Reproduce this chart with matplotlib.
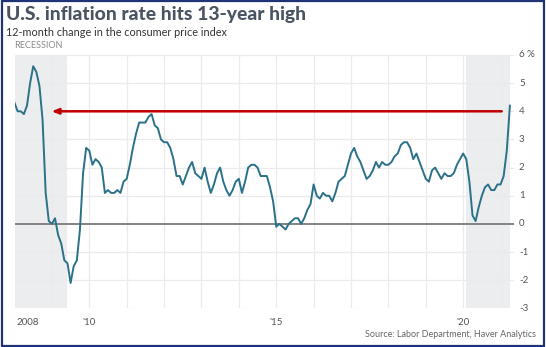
import matplotlib
matplotlib.use("Agg")
import matplotlib.pyplot as plt
import matplotlib.patches as patches
import numpy as np

plt.rcParams['font.family'] = ['Lato', 'DejaVu Sans']

# 12-month CPI change, monthly, Jan 2008 - Apr 2021
cpi_2008 = [4.3, 4.0, 4.0, 3.9, 4.2, 5.0, 5.6, 5.4, 4.9, 3.7, 1.1, 0.1]
cpi_2009 = [0.0, 0.2, -0.4, -0.7, -1.3, -1.4, -2.1, -1.5, -1.3, -0.2, 1.8, 2.7]
cpi_2010 = [2.6, 2.1, 2.3, 2.2, 2.0, 1.1, 1.2, 1.1, 1.1, 1.2, 1.1, 1.5]
cpi_2011 = [1.6, 2.1, 2.7, 3.2, 3.6, 3.6, 3.6, 3.8, 3.9, 3.5, 3.4, 3.0]
cpi_2012 = [2.9, 2.9, 2.7, 2.3, 1.7, 1.7, 1.4, 1.7, 2.0, 2.2, 1.8, 1.7]
cpi_2013 = [1.6, 2.0, 1.5, 1.1, 1.4, 1.8, 2.0, 1.5, 1.2, 1.0, 1.2, 1.5]
cpi_2014 = [1.6, 1.1, 1.5, 2.0, 2.1, 2.1, 2.0, 1.7, 1.7, 1.7, 1.3, 0.8]
cpi_2015 = [-0.1, 0.0, -0.1, -0.2, 0.0, 0.1, 0.2, 0.2, 0.0, 0.2, 0.5, 0.7]
cpi_2016 = [1.4, 1.0, 0.9, 1.1, 1.0, 1.0, 0.8, 1.1, 1.5, 1.6, 1.7, 2.1]
cpi_2017 = [2.5, 2.7, 2.4, 2.2, 1.9, 1.6, 1.7, 1.9, 2.2, 2.0, 2.2, 2.1]
cpi_2018 = [2.1, 2.2, 2.4, 2.5, 2.8, 2.9, 2.9, 2.7, 2.3, 2.5, 2.2, 1.9]
cpi_2019 = [1.6, 1.5, 1.9, 2.0, 1.8, 1.6, 1.8, 1.7, 1.7, 1.8, 2.1, 2.3]
cpi_2020 = [2.5, 2.3, 1.5, 0.3, 0.1, 0.6, 1.0, 1.3, 1.4, 1.2, 1.2, 1.4]
cpi_2021 = [1.4, 1.7, 2.6, 4.2]

recessions = [(2007.917, 2009.417), (2020.083, 2021.25)]
highlight_level = 4.0
highlight_span = (2021.03, 2008.99)

y_ticks = [-3, -2, -1, 0, 1, 2, 3, 4, 5, 6]
y_labels = ['-3', '-2', '-1', '0', '1', '2', '3', '4', '5', '6 %']
x_label_years = [2010, 2015, 2020]
x_labels = ["'10", "'15", "'20"]

values = (cpi_2008 + cpi_2009 + cpi_2010 + cpi_2011 + cpi_2012 + cpi_2013 +
          cpi_2014 + cpi_2015 + cpi_2016 + cpi_2017 + cpi_2018 + cpi_2019 +
          cpi_2020 + cpi_2021)
dates = 2008 + np.arange(len(values)) / 12.0

fig = plt.figure(figsize=(5.46, 3.47), dpi=100)
ax = fig.add_axes([0.0266, 0.1115, 0.9148, 0.730])

ax.set_xlim(2008.0, 2021.36)
ax.set_ylim(-3, 6)

# recession bands
for start, end in recessions:
    ax.axvspan(max(start, 2008.0), end, color='#ecedef', zorder=0, lw=0)

# grid
for yr in range(2009, 2022):
    ax.axvline(yr, color='#ebebeb', lw=0.9, zorder=1)
for y in y_ticks:
    if y != 0:
        ax.axhline(y, color='#ebebeb', lw=0.9, zorder=1)
ax.axhline(0, color='#7a7a7a', lw=1.3, zorder=2)

ax.plot(dates, values, color='#2a7189', lw=1.4, zorder=4, solid_joinstyle='round')

# 13-year-high marker
ax.annotate('', xy=(highlight_span[1], highlight_level),
            xytext=(highlight_span[0], highlight_level),
            arrowprops=dict(arrowstyle='-|>,head_length=0.4,head_width=0.16',
                            color='#c00000', lw=1.8, shrinkA=0, shrinkB=0),
            zorder=3)

for s in ax.spines.values():
    s.set_visible(False)
ax.set_xticks([])
ax.set_yticks([])

# y tick labels on the right
for y, lab in zip(y_ticks, y_labels):
    ax.text(1.01, y, lab, transform=ax.get_yaxis_transform(), ha='left',
            va='center', fontsize=7, color='#555555')

# x tick labels
ax.text(2008.05, -3.5, '2008', ha='left', va='center', fontsize=7, color='#555555')
for yr, lab in zip(x_label_years, x_labels):
    ax.text(yr, -3.5, lab, ha='center', va='center', fontsize=7, color='#555555')

fig.text(0.011, 0.957, 'U.S. inflation rate hits 13-year high', fontsize=13.9,
         fontweight='black', color='#4a5462', ha='left', va='center')
fig.text(0.011, 0.905, '12-month change in the consumer price index', fontsize=7.8,
         color='#333333', ha='left', va='center')
fig.text(0.0266, 0.868, 'RECESSION', fontsize=6.5, color='#8a8a8a',
         ha='left', va='center')
fig.text(0.982, 0.035, 'Source: Labor Department, Haver Analytics', fontsize=6.5,
         color='#666666', ha='right', va='center')

# frame around the whole graphic
fig.patches.append(patches.Rectangle((0.003, 0.004), 0.993, 0.993,
                                     transform=fig.transFigure, fill=False,
                                     edgecolor='#1f3477', lw=1.6))

fig.savefig('out.png', dpi=100)
